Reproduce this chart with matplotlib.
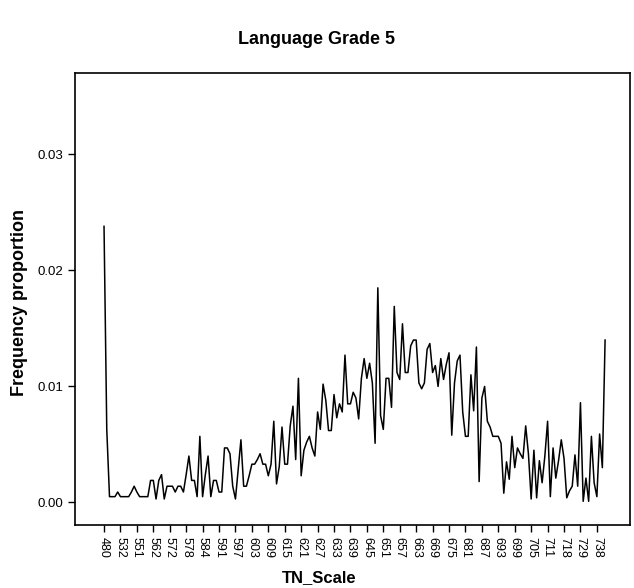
import matplotlib
matplotlib.use('Agg')
import matplotlib.pyplot as plt

plt.rcParams['font.family'] = ['Liberation Sans', 'DejaVu Sans']

# Datos
freq = [0.0238, 0.0063, 0.0005, 0.0005, 0.0005, 0.0009, 0.0005, 0.0005, 0.0005, 0.0005,
        0.0009, 0.0014, 0.0009, 0.0005, 0.0005, 0.0005, 0.0005, 0.0019, 0.0019, 0.0003,
        0.0019, 0.0024, 0.0003, 0.0014, 0.0014, 0.0014, 0.0009, 0.0014, 0.0014, 0.0009,
        0.0024, 0.0040, 0.0019, 0.0019, 0.0005, 0.0057, 0.0005, 0.0024, 0.0040, 0.0005,
        0.0019, 0.0019, 0.0009, 0.0009, 0.0047, 0.0047, 0.0042, 0.0014, 0.0003, 0.0028,
        0.0054, 0.0014, 0.0014, 0.0023, 0.0033, 0.0033, 0.0037, 0.0042, 0.0033, 0.0033,
        0.0023, 0.0033, 0.0070, 0.0016, 0.0031, 0.0065, 0.0033, 0.0033, 0.0066, 0.0083,
        0.0037, 0.0107, 0.0023, 0.0045, 0.0052, 0.0057, 0.0047, 0.0040, 0.0078, 0.0063,
        0.0102, 0.0088, 0.0062, 0.0062, 0.0093, 0.0073, 0.0085, 0.0078, 0.0127, 0.0085,
        0.0085, 0.0095, 0.0090, 0.0072, 0.0107, 0.0124, 0.0107, 0.0120, 0.0103, 0.0051,
        0.0185, 0.0075, 0.0063, 0.0107, 0.0107, 0.0082, 0.0169, 0.0112, 0.0106, 0.0154,
        0.0112, 0.0112, 0.0135, 0.0140, 0.0140, 0.0103, 0.0098, 0.0103, 0.0132, 0.0137,
        0.0112, 0.0118, 0.0100, 0.0124, 0.0106, 0.0119, 0.0129, 0.0058, 0.0103, 0.0122,
        0.0127, 0.0078, 0.0057, 0.0057, 0.0110, 0.0079, 0.0134, 0.0018, 0.0090, 0.0100,
        0.0070, 0.0065, 0.0057, 0.0057, 0.0057, 0.0051, 0.0008, 0.0035, 0.0020, 0.0057,
        0.0030, 0.0047, 0.0042, 0.0038, 0.0066, 0.0042, 0.0003, 0.0045, 0.0004, 0.0036,
        0.0017, 0.0040, 0.0070, 0.0005, 0.0047, 0.0021, 0.0036, 0.0054, 0.0038, 0.0004,
        0.0010, 0.0014, 0.0041, 0.0014, 0.0086, 0.0001, 0.0021, 0.0001, 0.0057, 0.0017,
        0.0005, 0.0059, 0.0030, 0.0140]

tick_labels = ['480', '532', '551', '562', '572', '578', '584', '591', '597', '603',
               '609', '615', '621', '627', '633', '639', '645', '651', '657', '663',
               '669', '675', '681', '687', '693', '699', '705', '711', '718', '729', '738']

y_ticks = [0.00, 0.01, 0.02, 0.03]

# Grafico
fig = plt.figure(figsize=(6.34, 5.88), dpi=100)
ax = fig.add_axes([0.1183, 0.107, 0.8754, 0.7685])

ax.plot(range(len(freq)), freq, color='black', linewidth=1.1)

ax.set_xlim(-10.6, 192.1)
ax.set_ylim(-0.00195, 0.0370)

ax.set_xticks(range(0, 6 * len(tick_labels), 6))
ax.set_xticklabels(tick_labels, rotation=-90, fontsize=9)
ax.set_yticks(y_ticks)
ax.set_yticklabels([f'{v:.2f}' for v in y_ticks], fontsize=9.5)
ax.tick_params(direction='out', length=5, width=1, colors='black')

for spine in ax.spines.values():
    spine.set_linewidth(1.2)

# Titulos centrados en la figura
fig.text(0.503, 1 - 578 / 588, 'TN_Scale', fontsize=12, fontweight='bold',
         ha='center', va='center')
fig.text(20 / 634, 1 - 303 / 588, 'Frequency proportion', fontsize=13, fontweight='bold',
         ha='center', va='center', rotation=90)
fig.text(0.5, 1 - 40 / 588, 'Language Grade 5', fontsize=13, fontweight='bold',
         ha='center', va='center')

fig.savefig('out.png', dpi=100)
